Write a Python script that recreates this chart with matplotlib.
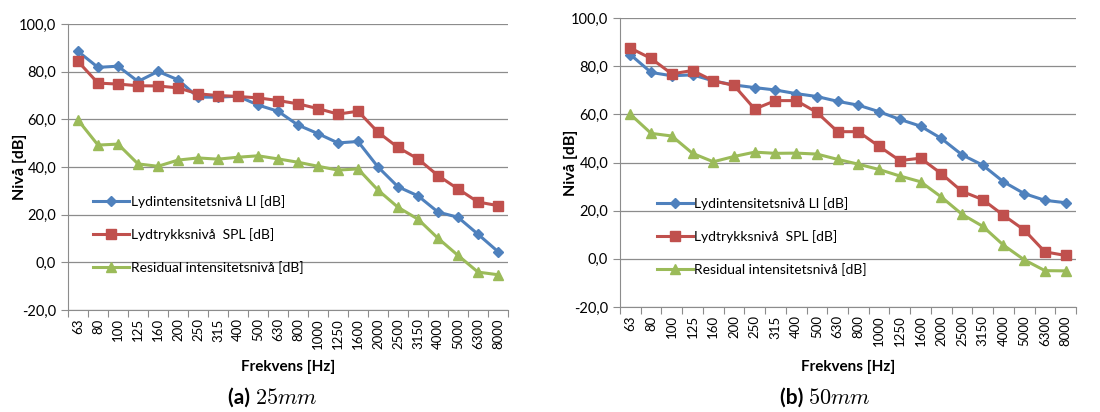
import matplotlib
matplotlib.use("Agg")
import matplotlib.pyplot as plt

# Third-octave band centre frequencies
freqs = ["63", "80", "100", "125", "160", "200", "250", "315", "400", "500",
         "630", "800", "1000", "1250", "1600", "2000", "2500", "3150", "4000",
         "5000", "6300", "8000"]

# (a) 25 mm
li_25 = [88.5, 81.8, 82.3, 75.9, 80.1, 76.6, 69.3, 69.3, 69.7, 66.0, 63.4,
         57.6, 54.0, 50.1, 50.7, 40.0, 31.7, 27.9, 21.1, 18.9, 11.8, 4.5]
spl_25 = [84.3, 75.2, 74.8, 74.1, 74.0, 73.2, 70.7, 70.0, 69.6, 69.0, 67.9,
          66.5, 64.5, 62.2, 63.4, 54.6, 48.2, 43.4, 36.4, 30.8, 25.3, 23.8]
res_25 = [59.7, 49.2, 49.6, 41.3, 40.3, 42.9, 43.8, 43.3, 44.1, 44.7, 43.4,
          42.0, 40.3, 38.7, 39.2, 30.3, 23.1, 18.1, 10.1, 2.9, -4.1, -5.2]

# (b) 50 mm
li_50 = [84.8, 77.4, 76.0, 76.4, 73.9, 72.2, 71.1, 70.1, 68.6, 67.4, 65.4,
         63.8, 61.1, 57.9, 55.1, 50.0, 43.2, 38.9, 32.0, 27.1, 24.3, 23.3]
spl_50 = [87.5, 83.2, 76.8, 78.2, 73.9, 72.0, 62.2, 65.7, 65.7, 60.8, 52.8,
          52.8, 46.7, 40.8, 41.8, 35.4, 28.0, 24.6, 18.1, 12.0, 2.9, 1.4]
res_50 = [60.0, 52.1, 51.0, 43.8, 40.3, 42.5, 44.3, 43.8, 43.9, 43.5, 41.3,
          39.3, 37.1, 34.4, 32.0, 25.7, 18.5, 13.5, 5.7, -0.4, -4.9, -5.0]

labels = ["Lydintensitetsnivå LI [dB]", "Lydtrykksnivå  SPL [dB]",
          "Residual intensitetsnivå [dB]"]
colors = ["#4F81BD", "#C0504D", "#9BBB59"]
markers = ["D", "s", "^"]
msizes = [5, 7, 7]

plt.rcParams["font.family"] = ["Lato", "DejaVu Sans"]
plt.rcParams["mathtext.fontset"] = "cm"

W, H = 1100, 412
fig = plt.figure(figsize=(11, 4.12), dpi=100)


def draw(ax, series, leg_anchor, xlab_y):
    n = len(freqs)
    x = list(range(n))
    for vals, lab, c, m, ms in zip(series, labels, colors, markers, msizes):
        ax.plot(x, vals, color=c, marker=m, markersize=ms, lw=2.2, label=lab)
    ax.set_xlim(-0.5, n - 0.5)
    ax.set_ylim(-20, 100)
    yt = list(range(-20, 101, 20))
    ax.set_yticks(yt)
    ax.set_yticklabels([("%.1f" % v).replace(".", ",") for v in yt])
    ax.grid(axis="y", color="#8c8c8c", lw=0.9)
    ax.set_axisbelow(True)
    # category boundary ticks, labels centred on categories
    ax.set_xticks([i - 0.5 for i in range(n + 1)])
    ax.set_xticklabels([])
    ax.set_xticks(x, minor=True)
    ax.set_xticklabels(freqs, minor=True, rotation=90, fontsize=9.5)
    ax.tick_params(axis="x", which="minor", length=0, pad=6)
    ax.tick_params(axis="x", which="major", length=5, color="#8c8c8c")
    ax.tick_params(axis="y", length=5, color="#8c8c8c", labelsize=10.5)
    for s in ["top", "right"]:
        ax.spines[s].set_visible(False)
    for s in ["left", "bottom"]:
        ax.spines[s].set_color("#8c8c8c")
    ax.set_xlabel("Frekvens [Hz]", fontweight="bold", fontsize=11)
    ax.xaxis.set_label_coords(0.5, xlab_y)
    ax.set_ylabel("Nivå [dB]", fontweight="bold", fontsize=11.5)
    ax.yaxis.set_label_coords(-0.093, 0.5)
    ax.legend(loc="center left", bbox_to_anchor=leg_anchor, frameon=False,
              fontsize=10, labelspacing=1.45, handlelength=2.6,
              handletextpad=0.1, borderaxespad=0)


ax1 = fig.add_axes([68 / W, (H - 310) / H, 440 / W, 286 / H])
draw(ax1, [li_25, spl_25, res_25], (0.045, 0.265), -0.175)

ax2 = fig.add_axes([620 / W, (H - 307) / H, 456 / W, 289 / H])
draw(ax2, [li_50, spl_50, res_50], (0.068, 0.243), -0.183)

fig.text(255 / W, 14 / H, r"(a) ", fontweight="bold", fontsize=15, ha="right", va="center")
fig.text(255 / W, 14 / H, r"$25mm$", fontsize=16, ha="left", va="center")
fig.text(808 / W, 14 / H, r"(b) ", fontweight="bold", fontsize=15, ha="right", va="center")
fig.text(808 / W, 14 / H, r"$50mm$", fontsize=16, ha="left", va="center")

fig.savefig("out.png", dpi=100)
